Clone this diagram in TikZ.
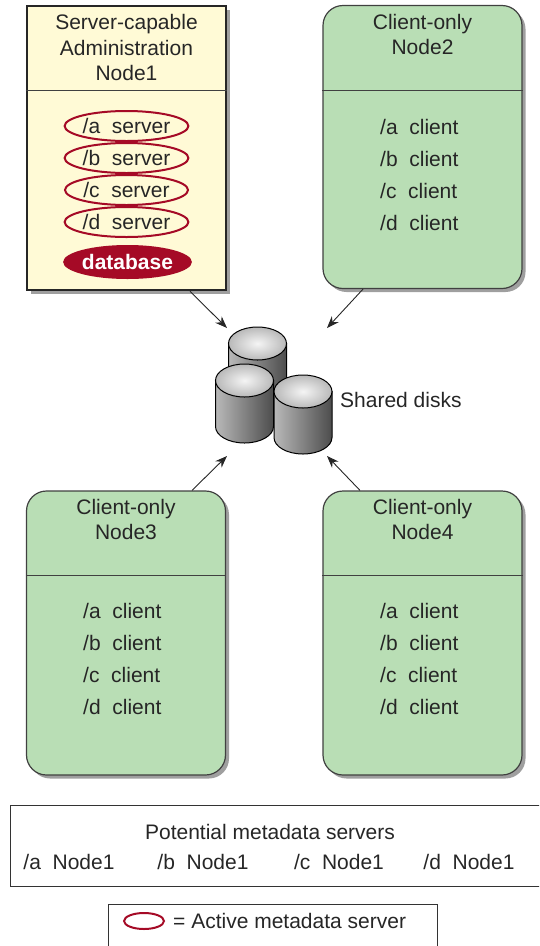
\documentclass[tikz,border=0pt]{standalone}
\usepackage{fontspec}
\setmainfont{Liberation Sans}
\usetikzlibrary{shapes.geometric, arrows.meta, shadows}
\definecolor{boxyellow}{RGB}{255,250,214}
\definecolor{boxgreen}{RGB}{185,222,181}
\definecolor{srvred}{RGB}{165,10,38}
\tikzstyle{shadowed} = [drop shadow={shadow xshift=3.5pt, shadow yshift=-3.5pt, fill=gray!75, opacity=1}]
\tikzstyle{srvbox} = [draw=black!85, line width=2.6pt, fill=boxyellow, minimum width=199pt, minimum height=284pt, shadowed]
\tikzstyle{clibox} = [draw=black!75, line width=1.2pt, fill=boxgreen, rounded corners=20pt, minimum width=199pt, minimum height=283pt, shadowed]
\tikzstyle{srv} = [ellipse, draw=srvred, line width=2pt, minimum width=123pt, minimum height=30pt, inner sep=0pt]
\tikzstyle{db} = [ellipse, fill=srvred, text=white, font=\fontsize{21}{25}\selectfont\bfseries, minimum width=111pt, minimum height=34pt, inner sep=0pt]
\tikzstyle{item} = [anchor=west, inner sep=0pt]
\tikzstyle{arrow} = [line width=0.9pt, draw=black!85, -{Stealth[length=12pt,width=9pt]}]
\newcommand{\disk}[2]{%
  \shade[left color=gray!55, middle color=gray!10, right color=black!70, draw=black, line width=1pt] (#1-29,#2) -- (#1-29,#2-46) arc[start angle=180, end angle=360, x radius=29, y radius=16.5] -- (#1+29,#2) -- cycle;
  \shade[inner color=gray!8, outer color=gray!55, draw=black, line width=1pt] (#1,#2) ellipse[x radius=29, y radius=16.5];}
\begin{document}
\begin{tikzpicture}[x=1pt, y=1pt, font=\fontsize{21}{25.5}\selectfont, text=black!85]
\path[use as bounding box, clip] (0,0) rectangle (539,-946);

\node[srvbox] (n1) at (126.5,-148) {};
\node[clibox] (n2) at (422.5,-147) {};
\node[clibox, minimum height=284pt] (n3) at (126,-633) {};
\node[clibox, minimum height=284pt] (n4) at (422.5,-633) {};
\draw[line width=1pt, black!75] (n1.west |- 0,-90) -- (n1.east |- 0,-90);
\draw[line width=1pt, black!75] (n2.west |- 0,-90) -- (n2.east |- 0,-90);
\draw[line width=1pt, black!75] (n3.west |- 0,-575) -- (n3.east |- 0,-575);
\draw[line width=1pt, black!75] (n4.west |- 0,-575) -- (n4.east |- 0,-575);

\node[align=center] (t1) at (126.5,-47.5) {Server-capable\\Administration\\Node1};
\node[align=center] (t2) at (422.5,-34.5) {Client-only\\Node2};
\node[align=center] (t3) at (126,-519.5) {Client-only\\Node3};
\node[align=center] (t4) at (422.5,-519.5) {Client-only\\Node4};

\foreach \p [count=\i] in {a,b,c,d}
  \node[srv] (s\p) at (126.5,{-126-32*(\i-1)}) {/\p~~server};
\node[db] (db) at (127.5,-262) {database};

\foreach \n/\x/\y in {2/380/127, 3/83/611, 4/380/611}
  \foreach \p [count=\i] in {a,b,c,d}
    \node[item] (c\n\p) at (\x,{-\y-32*(\i-1)}) {/\p~~client};

\disk{257.5}{-343.5}
\disk{244.5}{-380.5}
\disk{303}{-391.5}
\node[item] (sd) at (340,-400) {Shared disks};

\coordinate (d1) at (227,-328);
\coordinate (d2) at (327,-328);
\coordinate (d3) at (227,-456);
\coordinate (d4) at (327,-456);
\draw[arrow] ([xshift=63.5pt]n1.south) -- (d1);
\draw[arrow] ([xshift=-59.5pt]n2.south) -- (d2);
\draw[arrow] ([xshift=66pt]n3.north) -- (d3);
\draw[arrow] ([xshift=-62.5pt]n4.north) -- (d4);

\node[draw=black!80, line width=0.8pt, minimum width=550pt, minimum height=81pt] (pm) at (285,-845.5) {};
\node (pt) at (270,-832) {Potential metadata servers};
\foreach \p/\x in {a/69, b/203, c/339, d/469}
  \node (m\p) at (\x,-862) {/\p~~Node1};

\node[draw=black!80, line width=0.8pt, minimum width=329pt, minimum height=66pt] (key) at (272.5,-937) {};
\draw[srvred, line width=2pt] (144,-921) ellipse[x radius=20, y radius=8];
\node[item] (kt) at (173,-921) {= Active metadata server};
\end{tikzpicture}
\end{document}
